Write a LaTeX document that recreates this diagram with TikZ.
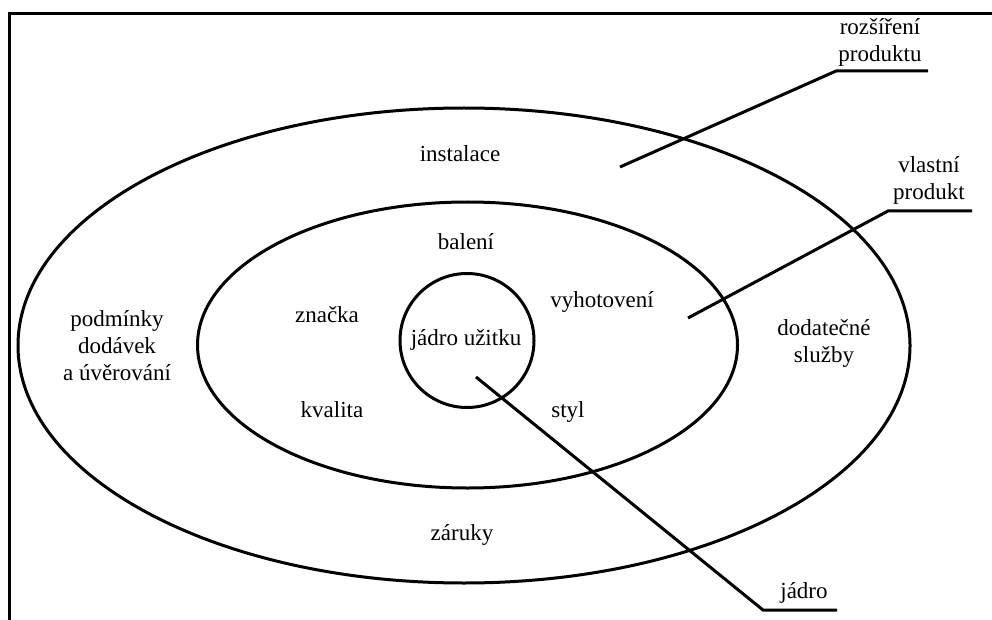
\documentclass[tikz,border=0pt]{standalone}
\usepackage{fontspec}
\setmainfont{Liberation Serif}

\begin{document}
\begin{tikzpicture}[x=1pt, y=-1pt, line width=3pt,
  label/.style={font=\fontsize{23}{27}\selectfont, anchor=base, inner sep=0pt, align=center}]
\useasboundingbox (0,0) rectangle (992,620);
\draw (9,640) -- (9,14) -- (1010,14); % frame
\draw (464,345.5) ellipse [x radius=446, y radius=237.5]; % rozsireni produktu
\draw (467.5,345) ellipse [x radius=270, y radius=143]; % vlastni produkt
\draw (467,340.5) circle [radius=67]; % jadro
% ring texts
\node[label] (instalace) at (460,162) {instalace};
\node[label] (zaruky) at (462,540) {záruky};
\node[label] (podminky) at (117,380) {podmínky\\dodávek\\a úvěrování};
\node[label] (sluzby) at (824,362) {dodatečné\\služby};
\node[label] (baleni) at (466,250) {balení};
\node[label] (znacka) at (327,322) {značka};
\node[label] (kvalita) at (332,417) {kvalita};
\node[label] (vyhotoveni) at (602,307) {vyhotovení};
\node[label] (styl) at (568,417) {styl};
\node[label] (uzitek) at (466,345) {jádro užitku};
% leader lines
\node[label] (rozsireni) at (880,62) {rozšíření\\produktu};
\node[label] (vlastni) at (929,200) {vlastní\\produkt};
\node[label] (jadro) at (804,598) {jádro};
\coordinate (r0) at (620,167);
\coordinate (r1) at (836,71);
\coordinate (r2) at (928,71);
\coordinate (v0) at (688,318);
\coordinate (v1) at (888,211);
\coordinate (v2) at (972,211);
\coordinate (j0) at (476,377);
\coordinate (j1) at (763,610);
\coordinate (j2) at (837,610);
\draw (r0) -- (r1) -- (r2); % rozsireni
\draw (v0) -- (v1) -- (v2); % vlastni
\draw (j0) -- (j1) -- (j2); % jadro
\end{tikzpicture}
\end{document}
